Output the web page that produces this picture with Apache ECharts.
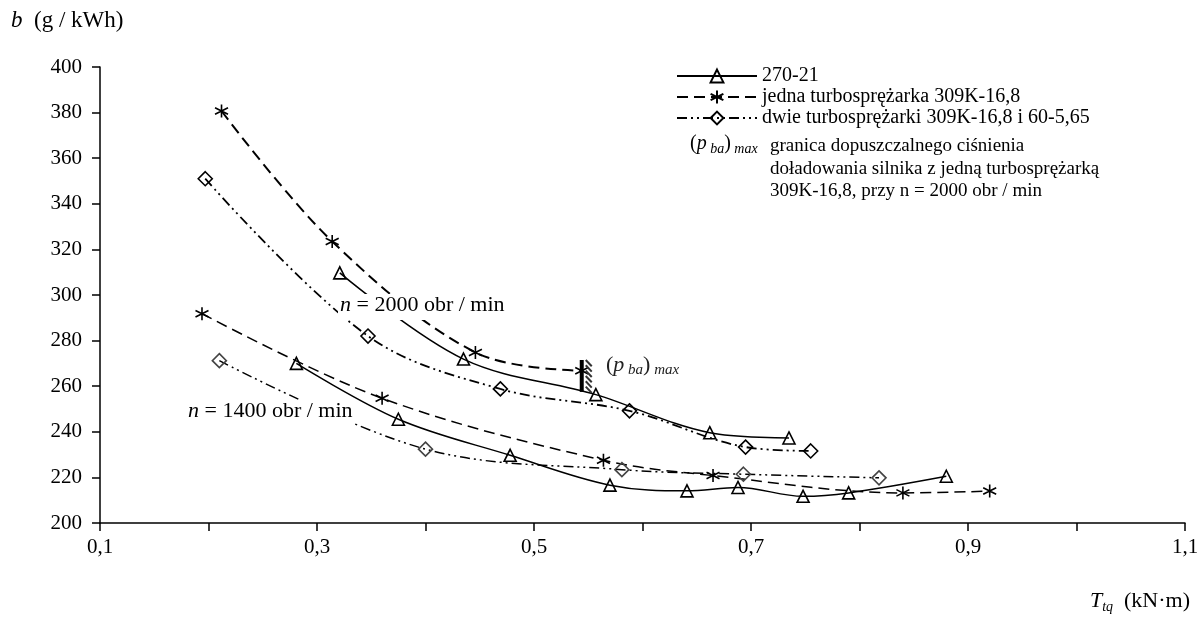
<!DOCTYPE html>
<html><head><meta charset="utf-8">
<script src="https://cdn.jsdelivr.net/npm/echarts@6/dist/echarts.min.js"></script>
<style>html,body{margin:0;padding:0;background:#fff}#c{width:1204px;height:623px}</style>
</head><body><div id="c"></div>
<script>
const FONT = '"Liberation Serif", "Times New Roman", serif';

// Legend / series names
const seriesNames = ['270-21', 'jedna turbosprężarka 309K-16,8', 'dwie turbosprężarki 309K-16,8 i 60-5,65'];

// n = 2000 obr/min  [T_tq (kN·m), b (g/kWh)]
const solid2000  = [[0.321,309.7],[0.435,271.9],[0.557,256.3],[0.662,239.6],[0.735,237.3]];
const dashed2000 = [[0.212,380.7],[0.314,323.5],[0.446,274.8],[0.544,266.8]];
const dashdot2000 = [[0.197,351.0],[0.347,282.0],[0.469,258.8],[0.588,249.2],[0.695,233.3],[0.755,231.6]];

// n = 1400 obr/min
const solid1400  = [[0.281,270.0],[0.375,245.5],[0.478,229.7],[0.570,216.6],[0.641,214.1],[0.688,215.6],[0.748,211.7],[0.790,213.2],[0.880,220.5]];
const dashed1400 = [[0.194,291.8],[0.360,254.7],[0.564,227.5],[0.665,220.8],[0.840,213.2],[0.920,214.0]];
const dashdot1400 = [[0.210,271.2],[0.400,232.4],[0.581,223.4],[0.693,221.4],[0.818,219.8]];

// (p_ba)max limit: [T_tq, b top, b bottom]
const pbaMax = [[0.544, 271.5, 257.5]];

// axes
const xMin = 0.1, xMax = 1.1, xStep = 0.1;
const yMin = 200, yMax = 400, yStep = 20;

const STAR = 'path://M5,0L5,10M0.67,2.5L9.33,7.5M0.67,7.5L9.33,2.5';
const styles = [
  {symbol:'triangle', size:12, dash:'solid'},
  {symbol:STAR, size:13, dash:[11,6]},
  {symbol:'diamond', size:14, dash:[10,4,2,4,2,4]}
];

function mk(idx, data, width, stroke){
  const s = styles[idx];
  return {
    name: seriesNames[idx], type:'line', data, smooth:0.35,
    symbol: s.symbol, symbolSize: s.size, showSymbol:true,
    lineStyle:{color:'#000', width: width, type: s.dash},
    itemStyle:{color:'rgba(255,255,255,0)', borderColor: stroke || '#000', borderWidth:1.6},
    emphasis:{disabled:true}, z:3, animation:false
  };
}

const chart = echarts.init(document.getElementById('c'), null, {renderer:'canvas'});
const axisCommon = {
  axisLine:{show:true, lineStyle:{color:'#000', width:1.5}},
  axisTick:{show:true, length:8, lineStyle:{color:'#000', width:1.5}},
  splitLine:{show:false},
};
const sub = (fs, pad) => ({fontStyle:'italic', fontFamily:FONT, fontSize:fs, lineHeight:26, verticalAlign:'top', padding:[pad,0,0,0]});
const big = (fs, it) => ({fontStyle: it ? 'italic' : 'normal', fontFamily:FONT, fontSize:fs, lineHeight:26, verticalAlign:'top'});

chart.setOption({
  backgroundColor:'#fff',
  animation:false,
  grid:{left:100, right:19, top:67, bottom:100},
  xAxis:Object.assign({type:'value', min:xMin, max:xMax, interval:xStep,
    axisLabel:{color:'#000', fontFamily:FONT, fontSize:21, margin:14,
      formatter:v => { const k = Math.round(v*10); return k % 2 === 1 ? (k/10).toFixed(1).replace('.', ',') : ''; }}
  }, axisCommon),
  yAxis:Object.assign({type:'value', min:yMin, max:yMax, interval:yStep,
    axisLabel:{color:'#000', fontFamily:FONT, fontSize:21, margin:18}
  }, axisCommon),
  legend:{
    orient:'vertical', left:676, top:66, padding:0, itemWidth:80, itemHeight:16, itemGap:1,
    selectedMode:false, data:seriesNames,
    textStyle:{fontFamily:FONT, fontSize:20, color:'#000'}
  },
  series:[
    mk(0, solid2000, 1.5),
    mk(1, dashed2000, 2),
    mk(2, dashdot2000, 1.8),
    mk(0, solid1400, 1.5),
    mk(1, dashed1400, 1.5),
    mk(2, dashdot1400, 1.5, '#444'),
    {
      type:'custom', data:pbaMax, z:5, silent:true,
      encode:{x:0, y:[1,2]},
      renderItem:(params, api) => {
        const top = api.coord([api.value(0), api.value(1)]);
        const bot = api.coord([api.value(0), api.value(2)]);
        const ch = [{type:'line', shape:{x1:top[0], y1:top[1], x2:bot[0], y2:bot[1]}, style:{stroke:'#000', lineWidth:4}}];
        const h = bot[1]-top[1], n = 6;
        for (let k=0;k<n;k++){
          const y = top[1] + k*h/n;
          ch.push({type:'line', shape:{x1:top[0]+4, y1:y, x2:top[0]+10, y2:y+h/n+1}, style:{stroke:'#333', lineWidth:2}});
        }
        return {type:'group', children:ch};
      }
    }
  ],
  graphic:[
    {type:'text', left:11, top:9, z:100, style:{text:'{i|b}{r|  (g / kWh)}', fill:'#000',
      rich:{i:big(23,true), r:big(23,false)}}},
    {type:'text', right:14, top:590, z:100, style:{text:'{i|T}{s|tq}{r|  (kN·m)}', fill:'#000',
      rich:{i:big(22,true), s:sub(14,10), r:big(22,false)}}},
    {type:'text', left:338, top:294, z:100, style:{text:'{i|n}{r| = 2000 obr / min}', fill:'#000', backgroundColor:'#fff', padding:[0,2,0,2],
      rich:{i:big(22,true), r:big(22,false)}}},
    {type:'text', left:186, top:400, z:100, style:{text:'{i|n}{r| = 1400 obr / min}', fill:'#000', backgroundColor:'#fff', padding:[0,2,0,2],
      rich:{i:big(22,true), r:big(22,false)}}},
    {type:'text', left:606, top:354, z:100, style:{text:'{r|(}{i|p}{s| ba}{r|)}{s| max}', fill:'#222',
      rich:{i:big(22,true), r:big(22,false), s:sub(15,9)}}},
    {type:'text', left:690, top:134, z:100, style:{text:'{r|(}{i|p}{s| ba}{r|)}{s| max}', fill:'#000',
      rich:{i:big(20,true), r:big(20,false), s:sub(14,8)}}},
    {type:'text', left:770, top:135, z:100, style:{text:'granica dopuszczalnego ciśnienia\ndoładowania silnika z jedną turbosprężarką\n309K-16,8, przy n = 2000 obr / min',
      font:'19px '+FONT, fill:'#000', lineHeight:22.5}}
  ]
});
</script></body></html>
